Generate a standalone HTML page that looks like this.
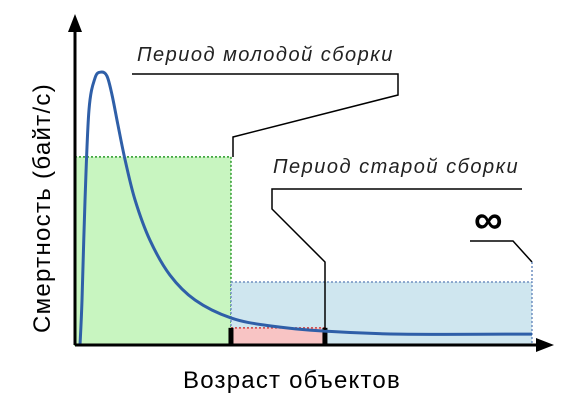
<!DOCTYPE html>
<html><head><meta charset="utf-8"><style>
body{margin:0;background:#fff;width:582px;height:401px;overflow:hidden}
svg{display:block;font-family:"Liberation Sans",sans-serif}
</style></head><body>
<svg id="c" width="582" height="401">
<g id="regions"></g>
<g id="curve"></g>
<line x1="75" y1="345" x2="75" y2="18" stroke="#000" stroke-width="3"/>
<polygon points="75,14 68,32 82,32" fill="#000"/>
<line x1="75" y1="345" x2="540" y2="345" stroke="#000" stroke-width="3"/>
<polygon points="554,345 536,338 536,352" fill="#000"/>
<text x="137" y="61" font-size="20" letter-spacing="1.5" font-style="italic" fill="#222">Период молодой сборки</text>
<polyline points="132,74 398,74 398,95 233,137 233,157" fill="none" stroke="#000" stroke-width="1.5"/>
<text x="273" y="173" font-size="20" letter-spacing="1.5" font-style="italic" fill="#222">Период старой сборки</text>
<polyline points="522,189 272,189 272,209 325,262 325,330" fill="none" stroke="#000" stroke-width="1.5"/>
<text x="474" y="233" font-size="40" font-weight="bold" fill="#000">∞</text>
<polyline points="470,241 513,241 532,262" fill="none" stroke="#000" stroke-width="1.5"/>
<line x1="532" y1="262" x2="532" y2="282" stroke="#6f8fc0" stroke-width="1.5" stroke-dasharray="2,2"/>
<text transform="translate(50,208) rotate(-90)" text-anchor="middle" font-size="24" letter-spacing="1.3" fill="#000">Смертность (байт/с)</text>
<text x="292" y="388" text-anchor="middle" font-size="24" letter-spacing="1.2" fill="#000">Возраст объектов</text>
</svg>
<script>
const ages=[1.05,1.47,2.1,2.93,4.19,5.45,6.7,7.76,9.0,10.5,12.6,15.7,19.9,25.2,32.7,40.9,52.4,68.1,95.8];
const mortality=[0,13.6,43.9,71.2,80.9,82.7,81.5,75.8,66.7,56.1,43.9,31.8,21.2,13.6,8.2,5.8,4.2,3.3,3.3];
const regionNames=["young-gen-region","old-gen-region","infinite-region"];
const regionStart=[0,32.7,32.7];
const regionEnd=[32.7,52.4,95.8];
const regionLevel=[57,5.2,19.1];
const X=v=>75+v*4.77, Y=v=>345-v*3.3;
const NS="http://www.w3.org/2000/svg";
const fills=["#c8f5c0","#f8c4c4","#cfe6ef"],strokes=["#2a9a2a","#d04040","#6f8fc0"];
const order=[0,2,1];
const rg=document.getElementById('regions');
order.forEach(i=>{
 const r=document.createElementNS(NS,'rect');
 r.setAttribute('x',X(regionStart[i]));r.setAttribute('y',Y(regionLevel[i]));
 r.setAttribute('width',X(regionEnd[i])-X(regionStart[i]));r.setAttribute('height',Y(0)-Y(regionLevel[i]));
 r.setAttribute('fill',fills[i]);r.setAttribute('stroke',strokes[i]);r.setAttribute('stroke-width','1.5');r.setAttribute('stroke-dasharray','2,2');
 
 
 rg.appendChild(r);
});
[regionStart[1],regionEnd[1]].forEach((v,k)=>{
 const t=document.createElementNS(NS,'rect');
 t.setAttribute('x',X(v)-2.5);t.setAttribute('y',Y(regionLevel[1]));t.setAttribute('width',5);t.setAttribute('height',Y(0)-Y(regionLevel[1]));t.setAttribute('fill','#000');
 
 
 rg.appendChild(t);
});
const P=ages.map((a,i)=>[X(a),Y(mortality[i])]);
let d='M'+P[0][0]+','+P[0][1];
for(let i=0;i<P.length-1;i++){
 const p0=P[i-1]||P[i],p1=P[i],p2=P[i+1],p3=P[i+2]||p2;
 d+=` C${p1[0]+(p2[0]-p0[0])/6},${p1[1]+(p2[1]-p0[1])/6} ${p2[0]-(p3[0]-p1[0])/6},${p2[1]-(p3[1]-p1[1])/6} ${p2[0]},${p2[1]}`;
}
const path=document.createElementNS(NS,'path');
path.setAttribute('d',d);path.setAttribute('fill','none');path.setAttribute('stroke','#2f5fa8');path.setAttribute('stroke-width','3');


document.getElementById('curve').appendChild(path);
</script>
</body></html>
